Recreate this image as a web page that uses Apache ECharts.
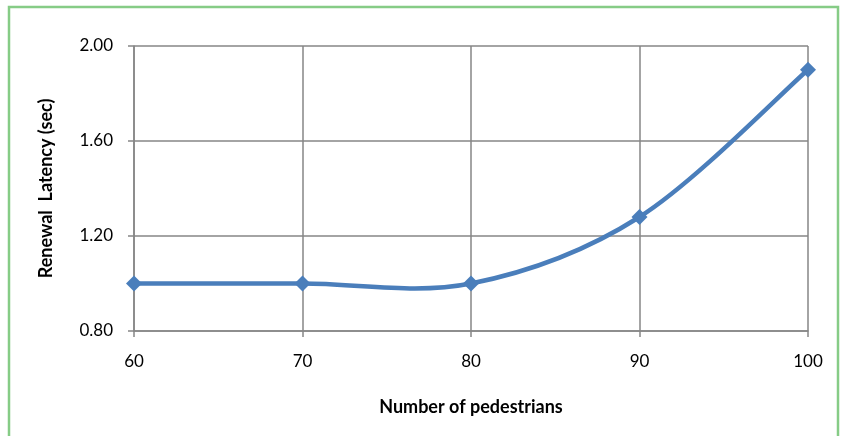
<!DOCTYPE html>
<html><head><meta charset="utf-8">
<script src="https://cdn.jsdelivr.net/npm/echarts@6/dist/echarts.min.js"></script>
<style>html,body{margin:0;padding:0;background:#fff}#c{width:848px;height:436px}</style>
</head><body><div id="c"></div>
<script>
const pedestrians = [60, 70, 80, 90, 100];
const latency = [1.00, 1.00, 1.00, 1.28, 1.90];
const yTicks = [0.80, 1.20, 1.60, 2.00];

const chart = echarts.init(document.getElementById('c'));
const font = 'Lato, "Open Sans", sans-serif';
const lineColor = '#4A7EBB';

// Smooth curve (Catmull-Rom style Bezier, like spreadsheet smoothing) built from data via the axis scales
function renderCurve(params, api) {
  const pts = pedestrians.map((x, i) => api.coord([x, latency[i]]));
  const n = pts.length;
  let d = 'M' + pts[0][0] + ' ' + pts[0][1];
  for (let i = 0; i < n - 1; i++) {
    const p0 = pts[Math.max(i - 1, 0)], p1 = pts[i], p2 = pts[i + 1], p3 = pts[Math.min(i + 2, n - 1)];
    const c1 = [p1[0] + (p2[0] - p0[0]) / 6, p1[1] + (p2[1] - p0[1]) / 6];
    const c2 = [p2[0] - (p3[0] - p1[0]) / 6, p2[1] - (p3[1] - p1[1]) / 6];
    d += ' C' + c1[0] + ' ' + c1[1] + ' ' + c2[0] + ' ' + c2[1] + ' ' + p2[0] + ' ' + p2[1];
  }
  return {
    type: 'path',
    shape: {pathData: d},
    style: {stroke: lineColor, lineWidth: 4.5, fill: 'none', lineJoin: 'round', lineCap: 'round'}
  };
}

chart.setOption({
  animation: false,
  graphic: [{
    type: 'rect', shape: {x: 9, y: 7, width: 829, height: 440},
    style: {fill: 'none', stroke: '#86CC86', lineWidth: 2.5}, z: -1
  }],
  grid: {left: 134, right: 40, top: 46, bottom: 105},
  xAxis: {
    type: 'value', min: 60, max: 100, interval: 10,
    name: 'Number of pedestrians', nameLocation: 'middle', nameGap: 67,
    nameTextStyle: {fontFamily: font, fontWeight: 'bold', fontSize: 18, color: '#000'},
    axisLine: {lineStyle: {color: '#868686', width: 1.5}},
    axisTick: {show: true, length: 6, lineStyle: {color: '#868686', width: 1.5}},
    axisLabel: {fontFamily: font, fontSize: 17, color: '#000', margin: 22},
    splitLine: {show: true, lineStyle: {color: '#868686', width: 1.5}}
  },
  yAxis: {
    type: 'value', min: 0.8, max: 2.0, interval: 0.4,
    name: 'Renewal  Latency (sec)', nameLocation: 'middle', nameGap: 79, nameRotate: 90,
    nameTextStyle: {fontFamily: font, fontWeight: 'bold', fontSize: 18, color: '#000'},
    axisLine: {show: true, lineStyle: {color: '#868686', width: 1.5}},
    axisTick: {show: true, length: 6, lineStyle: {color: '#868686', width: 1.5}},
    axisLabel: {fontFamily: font, fontSize: 17, color: '#000', margin: 21,
      formatter: v => v.toFixed(2)},
    splitLine: {show: true, lineStyle: {color: '#868686', width: 1.5}}
  },
  series: [{
    type: 'custom',
    coordinateSystem: 'cartesian2d',
    data: [[pedestrians[0], latency[0]]],
    encode: {x: 0, y: 1},
    renderItem: renderCurve,
    z: 2
  }, {
    type: 'scatter',
    data: pedestrians.map((x, i) => [x, latency[i]]),
    symbol: 'diamond', symbolSize: 16,
    itemStyle: {color: lineColor, opacity: 1},
    z: 3
  }]
});
</script></body></html>
